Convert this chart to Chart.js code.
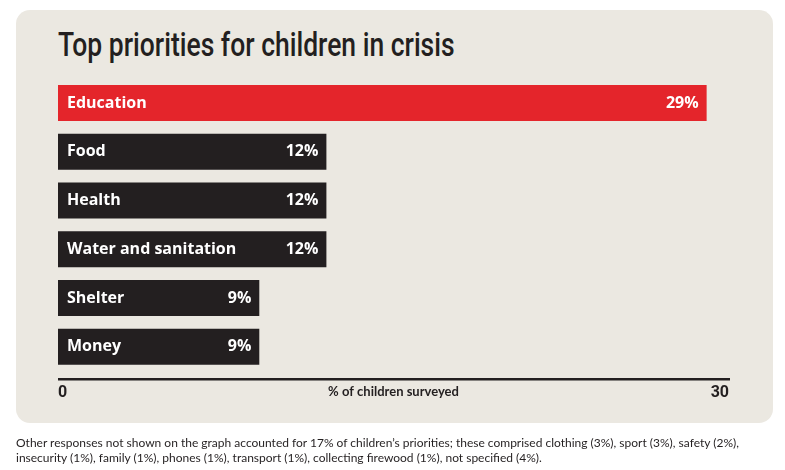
<!DOCTYPE html>
<html>
<head>
<meta charset="utf-8">
<script src="https://cdn.jsdelivr.net/npm/chart.js@4.4.1/dist/chart.umd.min.js"></script>
<style>
  html, body { margin: 0; padding: 0; background: #ffffff; }
  #wrap { position: relative; width: 785px; height: 470px; overflow: hidden; }
  #panel { position: absolute; left: 16px; top: 10px; width: 757px; height: 413px;
           background: #ebe8e1; border-radius: 14px; }
  #title { position: absolute; left: 58px; top: 27px; white-space: nowrap;
           font: 500 34px/34px Roboto, sans-serif; color: #231f20; transform-origin: 0 0; }
  #chart { position: absolute; left: 0; top: 0; }
  #note { position: absolute; left: 16px; top: 435px; width: 765px;
          font: 12px Lato, "Open Sans", sans-serif; line-height: 15px; color: #231f20; }
</style>
</head>
<body>
<div id="wrap">
  <div id="panel"></div>
  <div id="title">Top priorities for children in crisis</div>
  <canvas id="chart" width="785" height="470"></canvas>
  <div id="note">Other responses not shown on the graph accounted for 17% of children’s priorities; these comprised clothing (3%), sport (3%), safety (2%), insecurity (1%), family (1%), phones (1%), transport (1%), collecting firewood (1%), not specified (4%).</div>
</div>
<script>
// Данные графика
const categories = ['Education', 'Food', 'Health', 'Water and sanitation', 'Shelter', 'Money'];
const values = [29, 12, 12, 12, 9, 9];
const axisTicks = [0, 30];
const axisTitle = '% of children surveyed';

const RED = '#e4252b';
const DARK = '#231f20';

// Узкий заголовок: сжимаем по ширине до 397px
const titleEl = document.getElementById('title');
titleEl.style.transform = `scaleX(${397 / titleEl.offsetWidth})`;

// Подписи внутри полос, линия оси и подпись оси
const barLabels = {
    id: 'barLabels',
    afterDatasetsDraw(chart) {
        const ctx = chart.ctx;
        const meta = chart.getDatasetMeta(0);
        ctx.save();
        ctx.fillStyle = '#ffffff';
        ctx.textBaseline = 'middle';
        ctx.font = 'bold 16px "Open Sans", sans-serif';
        meta.data.forEach((bar, i) => {
            ctx.textAlign = 'left';
            ctx.fillText(categories[i], bar.base + 9, bar.y);
            ctx.textAlign = 'right';
            ctx.fillText(values[i] + '%', bar.x - 8, bar.y);
        });

        const x = chart.scales.x;
        const yLine = chart.chartArea.bottom + 8;
        ctx.strokeStyle = DARK;
        ctx.lineWidth = 2.5;
        ctx.beginPath();
        ctx.moveTo(x.getPixelForValue(axisTicks[0]), yLine);
        ctx.lineTo(x.getPixelForValue(axisTicks[1]) + 1, yLine);
        ctx.stroke();

        ctx.fillStyle = DARK;
        ctx.textAlign = 'center';
        ctx.font = 'bold 13px Lato, sans-serif';
        ctx.fillText(axisTitle, (x.left + x.right) / 2, yLine + 13);
        ctx.restore();
    }
};

new Chart(document.getElementById('chart'), {
    type: 'bar',
    data: {
        labels: categories,
        datasets: [{
            data: values,
            backgroundColor: values.map((v, i) => i === 0 ? RED : DARK),
            borderWidth: 0,
            barPercentage: 0.74,
            categoryPercentage: 1
        }]
    },
    options: {
        indexAxis: 'y',
        responsive: false,
        animation: false,
        layout: { padding: { left: 58, right: 56, top: 78.6, bottom: 55.6 } },
        plugins: {
            legend: { display: false },
            tooltip: { enabled: false },
            title: { display: false }
        },
        scales: {
            x: {
                min: axisTicks[0],
                max: axisTicks[1],
                afterBuildTicks(scale) {
                    scale.ticks = axisTicks.map(v => ({ value: v }));
                },
                grid: { display: false, drawTicks: false },
                border: { display: false },
                ticks: {
                    align: 'inner',
                    padding: 12,
                    color: DARK,
                    font: { family: 'Roboto, sans-serif', size: 16, weight: 'bold' }
                }
            },
            y: {
                display: false
            }
        }
    },
    plugins: [barLabels]
});
</script>
</body>
</html>
